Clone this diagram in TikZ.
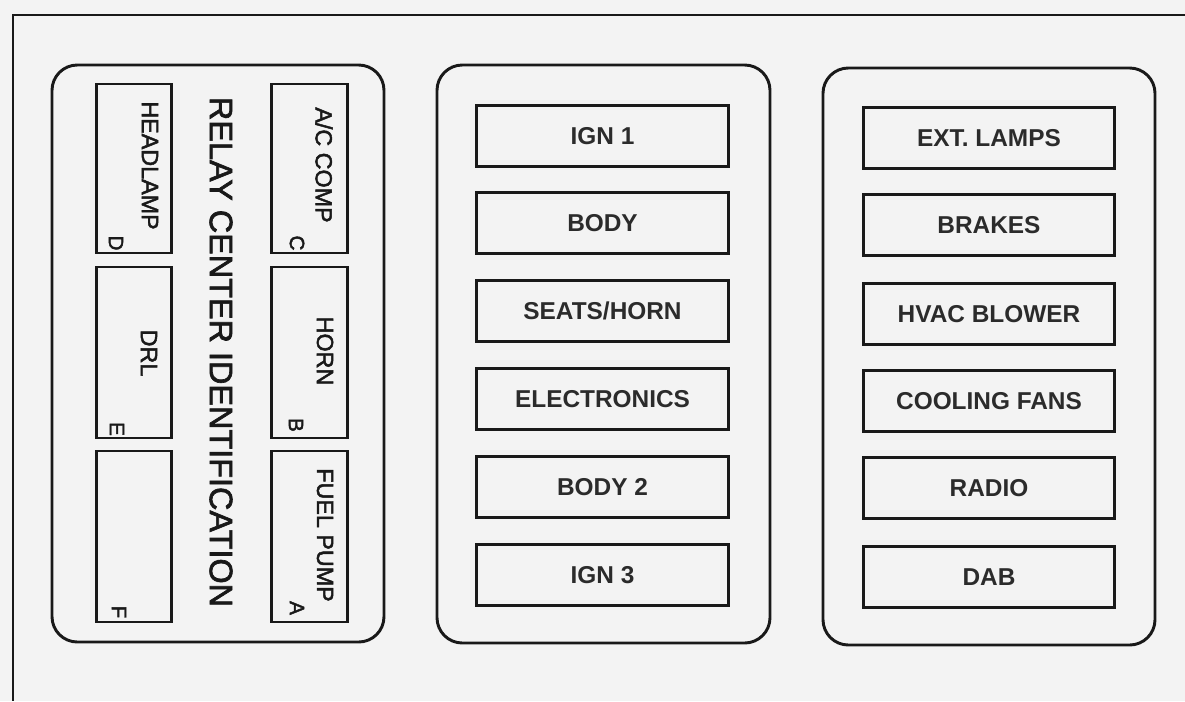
\documentclass[tikz,border=0pt]{standalone}
\usepackage{fontspec}
\setmainfont{Liberation Sans}
\newfontfamily\medfont{Liberation Sans}[FakeBold=2]
\definecolor{paper}{RGB}{243,243,243}
\definecolor{ink}{RGB}{25,25,25}
\begin{document}
\begin{tikzpicture}[x=0.75pt,y=-0.75pt,
  panel/.style={draw=ink,line width=2.2pt,rounded corners=19pt,inner sep=0pt},
  fusebox/.style={draw=ink,line width=2.3pt,inner sep=0pt,minimum width=188.5pt,minimum height=45.5pt,
     font=\fontsize{18.3pt}{20pt}\selectfont\bfseries,text=ink!92},
  relaybox/.style={draw=ink,line width=2.1pt,inner sep=0pt,minimum width=56.5pt},
  relaytxt/.style={rotate=-90,inner sep=0pt,font=\medfont\fontsize{17.5pt}{19pt}\selectfont,text=ink},
  lettertxt/.style={rotate=-90,inner sep=0pt,font=\medfont\fontsize{15.5pt}{17pt}\selectfont,text=ink},
  titletxt/.style={rotate=-90,inner sep=0pt,font=\medfont\fontsize{24.3pt}{26pt}\selectfont,text=ink}]
\fill[paper] (0,0) rectangle (1185,701);
\useasboundingbox (0,0) rectangle (1185,701);
% outer frame
\coordinate (ftl) at (13,15);
\coordinate (ftr) at (1185,15);
\coordinate (fbl) at (13,701);
\draw[ink,line width=1.8pt] (ftr) -- (ftl) -- (fbl);
% panels
\node[panel,minimum width=249pt,minimum height=432.75pt] (pleft) at (218,353.5) {};
\node[panel,minimum width=249.75pt,minimum height=433.5pt] (pmid) at (603.5,354) {};
\node[panel,minimum width=249pt,minimum height=432.75pt] (pright) at (989,356.5) {};
% relay boxes
\node[relaybox,minimum height=126.75pt] (rD) at (134,168.5) {};
\node[relaybox,minimum height=128.25pt] (rE) at (134,352.5) {};
\node[relaybox,minimum height=128.25pt] (rF) at (134,536.5) {};
\node[relaybox,minimum height=126.75pt] (rC) at (309.5,168.5) {};
\node[relaybox,minimum height=128.25pt] (rB) at (309.5,352.5) {};
\node[relaybox,minimum height=128.25pt] (rA) at (309.5,536.5) {};
% relay labels
\node[relaytxt] (tD) at (150,165.5) {HEADLAMP};
\node[relaytxt] (tC) at (324,165) {A/C COMP};
\node[relaytxt] (tE) at (149,353) {DRL};
\node[relaytxt] (tB) at (325,351) {HORN};
\node[relaytxt] (tA) at (325,535) {FUEL PUMP};
\node[lettertxt] (lD) at (116,243) {D};
\node[lettertxt] (lC) at (297,243) {C};
\node[lettertxt] (lE) at (117,429) {E};
\node[lettertxt] (lB) at (296,425) {B};
\node[lettertxt] (lF) at (119,612) {F};
\node[lettertxt] (lA) at (297,608) {A};
\node[titletxt] (title) at (221,352) {RELAY CENTER IDENTIFICATION};
% middle fuses
\node[fusebox] (m1) at (602.5,136) {IGN 1};
\node[fusebox] (m2) at (602.5,223) {BODY};
\node[fusebox] (m3) at (602.5,311) {SEATS/HORN};
\node[fusebox] (m4) at (602.5,399) {ELECTRONICS};
\node[fusebox] (m5) at (602.5,487) {BODY 2};
\node[fusebox] (m6) at (602.5,575) {IGN 3};
% right fuses
\node[fusebox] (r1) at (989,138) {EXT. LAMPS};
\node[fusebox] (r2) at (989,225) {BRAKES};
\node[fusebox] (r3) at (989,314) {HVAC BLOWER};
\node[fusebox] (r4) at (989,401) {COOLING FANS};
\node[fusebox] (r5) at (989,488) {RADIO};
\node[fusebox] (r6) at (989,577) {DAB};
\end{tikzpicture}
\end{document}
